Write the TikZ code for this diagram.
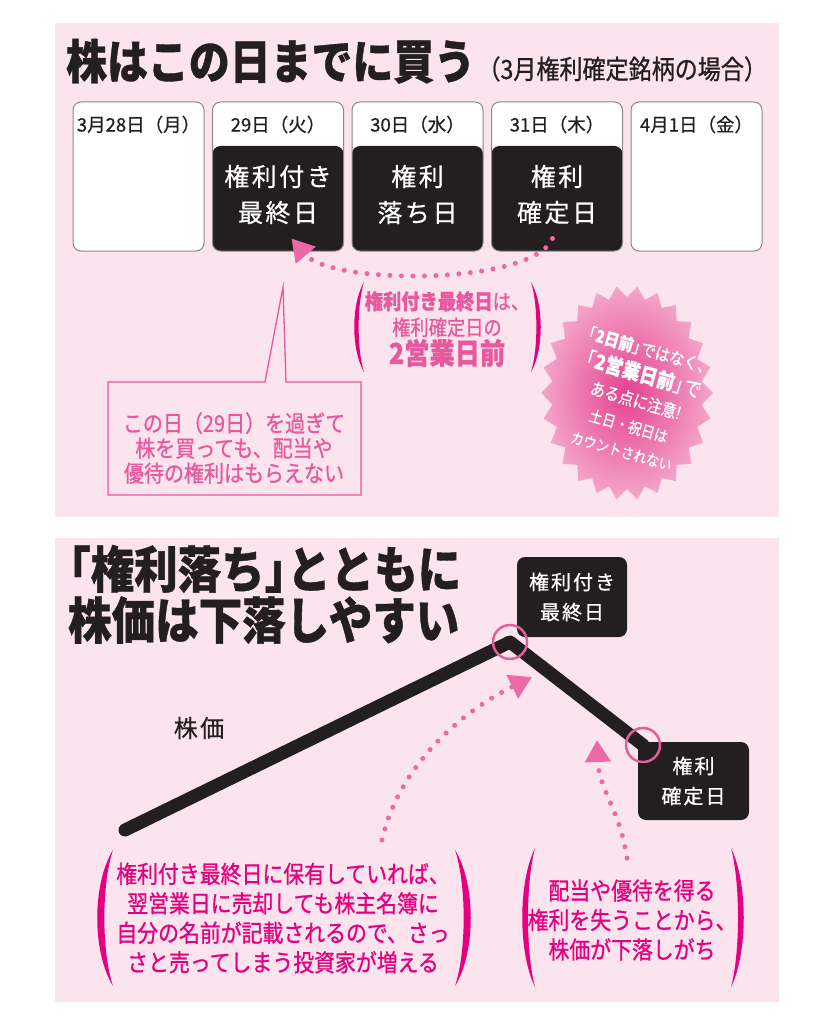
\documentclass[tikz,border=0pt]{standalone}
\usepackage{fontspec}
\newfontfamily\jp{Noto Sans CJK JP}[FakeBold=0.6]
\newfontfamily\jpn{Noto Sans CJK JP}[FakeStretch=0.87, FakeBold=0.8]
\newfontfamily\jpw{Noto Sans CJK JP}[LetterSpace=10, FakeBold=0.6]
\usetikzlibrary{arrows.meta,calc,positioning}
\definecolor{bgpink}{HTML}{FCE4EE}
\definecolor{inkblack}{HTML}{231F20}
\definecolor{boxgray}{HTML}{8A8A8A}
\definecolor{magentaink}{HTML}{E4007F}
\definecolor{softpink}{HTML}{E8589C}
\definecolor{dotpink}{HTML}{EC68A6}
\definecolor{ringpink}{HTML}{E0609B}
\definecolor{burstin}{HTML}{E5418F}
\definecolor{burstout}{HTML}{F4A6CA}

\begin{document}
\begin{tikzpicture}[x=1pt,y=-1pt,
  panel/.style={fill=bgpink},
  daybox/.style={draw=boxgray, line width=1pt, fill=white, rounded corners=8pt,
    minimum width=131pt, minimum height=149pt, inner sep=0pt},
  darkday/.style={daybox, path picture={\fill[inkblack]
    ([yshift=-44pt]path picture bounding box.north west) rectangle (path picture bounding box.south east);}},
  dayhead/.style={font=\jp\fontsize{18.5pt}{20pt}\selectfont, text=inkblack},
  daybody/.style={font=\jpw\fontsize{25pt}{36pt}\selectfont, text=white, align=center},
  dotarrow/.style={dotpink, line width=5pt, line cap=round, dash pattern=on 0pt off 11.5pt,
    -{Triangle[length=22pt,width=25pt]}},
  pinktext/.style={text=softpink, align=center},
  magtext/.style={text=magentaink, align=center, font=\jpn\fontsize{24pt}{29.5pt}\selectfont},
  callshape/.style={draw=softpink, line width=1.3pt, fill=bgpink},
  blackbox/.style={fill=inkblack, rounded corners=8pt, text=white, align=center,
    font=\jpw\fontsize{20pt}{30pt}\selectfont, minimum width=110pt, minimum height=80pt},
  ring/.style={draw=ringpink, line width=2.5pt, circle, minimum size=34pt, inner sep=0pt},
  price/.style={inkblack, line width=13pt, line cap=round, line join=round},
]
\useasboundingbox (0,0) rectangle (828,1024);
\fill[white] (0,0) rectangle (828,1024);

% upper panel
\fill[panel] (55,23) rectangle (779,517);
\node[anchor=base west, inner sep=0pt, text=inkblack,
  font=\jpn\bfseries\fontsize{47pt}{50pt}\selectfont] (buy) at (66,79) {株はこの日までに買う};
\node[anchor=base west, inner sep=0pt, text=inkblack,
  font=\jpn\fontsize{26.5pt}{27pt}\selectfont] (case) at ([xshift=2pt]buy.base east) {（3月権利確定銘柄の場合）};

\node[daybox] (d28) at (138.5,176.5) {};
\node[darkday, right=7.5pt of d28] (d29) {};
\node[darkday, right=7.5pt of d29] (d30) {};
\node[darkday, right=7.5pt of d30] (d31) {};
\node[daybox, right=7.5pt of d31] (d01) {};

\node[dayhead] (h28) at ([yshift=-23pt]d28.north) {3月28日（月）};
\node[dayhead] (h29) at ([yshift=-23pt]d29.north) {29日（火）};
\node[dayhead] (h30) at ([yshift=-23pt]d30.north) {30日（水）};
\node[dayhead] (h31) at ([yshift=-23pt]d31.north) {31日（木）};
\node[dayhead] (h01) at ([yshift=-23pt]d01.north) {4月1日（金）};

\node[daybody] (k29) at ([yshift=-93pt]d29.north) {権利付き\\最終日};
\node[daybody] (k30) at ([yshift=-93pt]d30.north) {権利\\落ち日};
\node[daybody] (k31) at ([yshift=-93pt]d31.north) {権利\\確定日};

\draw[dotarrow] ([xshift=-4.5pt,yshift=13pt]d31.south) .. controls +(-20,47) and +(40,47) .. ([xshift=13.5pt,yshift=13pt]d29.south);

\node[pinktext, font=\jpn\fontsize{21pt}{26pt}\selectfont] (twoday) at (447,329)
  {\textbf{権利付き最終日}は、\\ 権利確定日の\\[1pt] {\bfseries\fontsize{29pt}{30pt}\selectfont 2営業日前}};

\draw[callshape] (108,382) -- (265,382) -- (283,287) -- (286,382) -- (361,382) -- (361,495) -- (108,495) -- cycle;
\node[pinktext, font=\jpn\fontsize{23pt}{25pt}\selectfont] (late) at (234,448)
  {この日（29日）を過ぎて\\株を買っても、配当や\\優待の権利はもらえない};

\shade[inner color=burstin, outer color=burstout] (713,393)
  \foreach \k in {1,...,51} { -- ({627+(86-11*mod(\k,2))*cos(360/52*\k)}, {393+(107-11*mod(\k,2))*sin(360/52*\k)}) } -- cycle;
\node[rotate=-16, text=white, align=center, font=\jpn\fontsize{17pt}{26pt}\selectfont] (note) at (636,400)
  {\makebox[0.5em][r]{「}\textbf{2日前}\makebox[0.5em][l]{」}ではなく、\\
   {\fontsize{20.5pt}{26pt}\selectfont\makebox[0.5em][r]{「}\textbf{2営業日前}\makebox[0.5em][l]{」}で}\\
   ある点に注意!\\
   {\fontsize{15.5pt}{22pt}\selectfont 土日・祝日は}\\ {\fontsize{15pt}{20pt}\selectfont カウントされない}};

% lower panel
\fill[panel] (55,538) rectangle (779,1002);
\node[anchor=base west, inner sep=0pt, text=inkblack,
  font=\jpn\bfseries\fontsize{50pt}{50pt}\selectfont] (t2a) at (68,588)
  {\makebox[0.45em][r]{「}権利落ち\makebox[0.45em][l]{」}とともに};
\node[anchor=base west, inner sep=0pt, text=inkblack,
  font=\jpn\bfseries\fontsize{50pt}{50pt}\selectfont] (t2b) at (68,639) {株価は下落しやすい};

\coordinate (low) at (125,830);
\coordinate (peak) at (510,642);
\coordinate (fix) at (643,745);
\draw[price] (low) -- (peak) -- (fix);
\node[blackbox] (lastday) at (572,597) {権利付き\\最終日};
\node[blackbox, minimum width=111pt, minimum height=78pt] (recday) at (693.5,781) {権利\\確定日};
\node[ring] (pr) at (peak) {};
\node[ring] (fr) at (fix) {};
\node[text=inkblack, font=\jpw\fontsize{24pt}{24pt}\selectfont] (kabuka) at (199,728) {株価};

\coordinate (keep) at (382,840);
\coordinate (lose) at (627,858);
\draw[dotarrow] (keep) .. controls (395,780) and (445,720) .. ([xshift=22pt,yshift=-35pt]peak);
\draw[dotarrow] (lose) .. controls (620,810) and (599,790) .. ([xshift=-46pt,yshift=5pt]fix);

\node[magtext] (hold) at (283,918) {権利付き最終日に保有していれば、\\翌営業日に売却しても株主名簿に\\自分の名前が記載されるので、さっ\\さと売ってしまう投資家が増える};
\node[magtext] (sell) at (632,920) {配当や優待を得る\\権利を失うことから、\\株価が下落しがち};

% brackets
\foreach \x/\yt/\yb/\b in {364/282/372/-13, 531/282/372/13, 113/850/986/-21, 455/850/986/21, 535/848/987/-17, 731/848/987/17}
  \fill[magentaink] (\x,\yt) .. controls ({\x+\b},{\yt+(\yb-\yt)/4}) and ({\x+\b},{\yb-(\yb-\yt)/4}) .. (\x,\yb)
    .. controls ({\x+0.55*\b},{\yb-(\yb-\yt)/4}) and ({\x+0.55*\b},{\yt+(\yb-\yt)/4}) .. cycle;
\end{tikzpicture}
\end{document}
